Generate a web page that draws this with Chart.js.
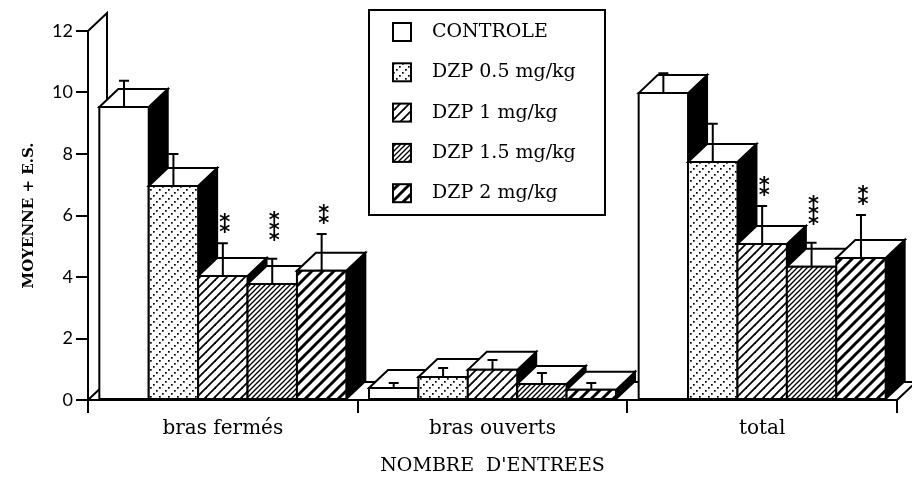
<!DOCTYPE html>
<html lang="fr">
<head>
<meta charset="utf-8">
<title>Nombre d'entrées</title>
<script src="https://cdn.jsdelivr.net/npm/chart.js@4.4.0/dist/chart.umd.min.js"></script>
<style>
  html, body { margin: 0; padding: 0; background: #fff; }
  #graphique { display: block; }
</style>
</head>
<body>
<canvas id="graphique" width="912" height="477"></canvas>
<script>
var categories = ["bras fermés", "bras ouverts", "total"];
var groupes = ["CONTROLE", "DZP 0.5 mg/kg", "DZP 1 mg/kg", "DZP 1.5 mg/kg", "DZP 2 mg/kg"];

// moyennes
var controle = [9.53, 0.39, 9.98];
var dzp05 = [6.96, 0.75, 7.74];
var dzp1 = [4.03, 0.98, 5.07];
var dzp15 = [3.77, 0.52, 4.33];
var dzp2 = [4.2, 0.33, 4.62];

// erreurs standard
var esControle = [0.85, 0.16, 0.65];
var esDzp05 = [1.04, 0.29, 1.24];
var esDzp1 = [1.07, 0.32, 1.24];
var esDzp15 = [0.82, 0.36, 0.78];
var esDzp2 = [1.2, 0.22, 1.4];

// significativite vs controle
var etoilesControle = ["", "", ""];
var etoilesDzp05 = ["", "", ""];
var etoilesDzp1 = ["**", "", "**"];
var etoilesDzp15 = ["***", "", "***"];
var etoilesDzp2 = ["**", "", "**"];

var graduationsY = [0, 2, 4, 6, 8, 10, 12];

var series = [controle, dzp05, dzp1, dzp15, dzp2];
var erreurs = [esControle, esDzp05, esDzp1, esDzp15, esDzp2];
var etoiles = [etoilesControle, etoilesDzp05, etoilesDzp1, etoilesDzp15, etoilesDzp2];

// decalage de la profondeur (vers le haut a droite)
var DX = 19, DY = -18;

function nouvelleTuile(taille) {
  var c = document.createElement("canvas");
  c.width = taille; c.height = taille;
  var g = c.getContext("2d");
  g.fillStyle = "#fff";
  g.fillRect(0, 0, taille, taille);
  return { c: c, g: g };
}

function motifRayures(pas, epaisseur) {
  var t = nouvelleTuile(pas);
  t.g.strokeStyle = "#000";
  t.g.lineWidth = epaisseur;
  [-pas, 0, pas].forEach(function (d) {
    t.g.beginPath();
    t.g.moveTo(d - 1, pas + 1);
    t.g.lineTo(d + pas + 1, -1);
    t.g.stroke();
  });
  return t.g.createPattern(t.c, "repeat");
}

function motifPoints(pas) {
  var t = nouvelleTuile(pas);
  t.g.fillStyle = "#000";
  var s = pas / 3;
  for (var k = 0; k < 3; k++) {
    t.g.fillRect(k * s, pas - (k + 1) * s, 1.7, 1.7);
  }
  return t.g.createPattern(t.c, "repeat");
}

var motifs = ["#fff", motifPoints(9), motifRayures(9, 1.8), motifRayures(5, 1.3), motifRayures(11, 3)];

function tracerPoly(ctx, pts, remplissage) {
  ctx.beginPath();
  ctx.moveTo(pts[0][0], pts[0][1]);
  for (var k = 1; k < pts.length; k++) ctx.lineTo(pts[k][0], pts[k][1]);
  ctx.closePath();
  ctx.fillStyle = remplissage;
  ctx.fill();
  ctx.stroke();
}

var barres3d = {
  id: "barres3d",
  beforeDatasetsDraw: function (chart) {
    var ctx = chart.ctx;
    var zone = chart.chartArea;
    var echY = chart.scales.y;
    ctx.save();
    ctx.strokeStyle = "#000";
    ctx.lineWidth = 2;

    // paroi gauche + sol
    ctx.beginPath();
    ctx.moveTo(zone.left, zone.top);
    ctx.lineTo(zone.left + DX, zone.top + DY);
    ctx.lineTo(zone.left + DX, zone.bottom + DY);
    ctx.moveTo(zone.left, zone.bottom);
    ctx.lineTo(zone.left + DX, zone.bottom + DY);
    ctx.lineTo(zone.right + DX, zone.bottom + DY);
    ctx.lineTo(zone.right, zone.bottom);
    ctx.stroke();

    // de gauche a droite : chaque barre cache le flanc de la precedente
    for (var c = 0; c < chart.data.labels.length; c++) {
      for (var i = 0; i < chart.data.datasets.length; i++) {
        var ds = chart.data.datasets[i];
        var barre = chart.getDatasetMeta(i).data[c];
        var g = barre.x - barre.width / 2, d = barre.x + barre.width / 2;
        var h = barre.y, b = barre.base;

        tracerPoly(ctx, [[d, h], [d + DX, h + DY], [d + DX, b + DY], [d, b]], "#000");
        tracerPoly(ctx, [[g, h], [g + DX, h + DY], [d + DX, h + DY], [d, h]], "#fff");
        tracerPoly(ctx, [[g, h], [d, h], [d, b], [g, b]], ds.backgroundColor);

        // barre d'erreur
        var yErr = echY.getPixelForValue(ds.data[c] + ds.erreurs[c]);
        ctx.beginPath();
        ctx.moveTo(barre.x, h);
        ctx.lineTo(barre.x, yErr);
        ctx.moveTo(barre.x - 5, yErr);
        ctx.lineTo(barre.x + 5, yErr);
        ctx.stroke();

        // etoiles empilees
        var n = ds.etoiles[c].length;
        if (n) {
          ctx.fillStyle = "#000";
          ctx.font = "bold 21px 'DejaVu Sans'";
          ctx.textAlign = "center";
          ctx.textBaseline = "alphabetic";
          var yBas = yErr - 17 - (n - 2) * 8;
          for (var k = 0; k < n; k++) {
            ctx.fillText("*", barre.x + 2, yBas - k * 10 + 13);
          }
        }
      }
    }
    ctx.restore();
    return false;
  }
};

var legendeEncadree = {
  id: "legendeEncadree",
  afterDraw: function (chart) {
    var ctx = chart.ctx;
    ctx.save();
    ctx.lineWidth = 2;
    ctx.strokeStyle = "#000";
    ctx.strokeRect(369, 10, 236, 205);
    chart.data.datasets.forEach(function (ds, i) {
      var y = 32 + i * 40.3;
      ctx.fillStyle = ds.backgroundColor;
      ctx.fillRect(393, y - 9, 18, 18);
      ctx.strokeRect(393, y - 9, 18, 18);
      ctx.fillStyle = "#000";
      ctx.font = "19px 'DejaVu Serif'";
      ctx.textAlign = "left";
      ctx.textBaseline = "middle";
      ctx.fillText(ds.label, 432, y);
    });
    ctx.restore();
  }
};

var jeux = groupes.map(function (nom, i) {
  return {
    label: nom,
    data: series[i],
    erreurs: erreurs[i],
    etoiles: etoiles[i],
    backgroundColor: motifs[i],
    borderColor: "#000",
    borderWidth: 2,
    barPercentage: 1,
    categoryPercentage: 0.916
  };
});

var ctx = document.getElementById("graphique").getContext("2d");
var graphique = new Chart(ctx, {
  type: "bar",
  data: { labels: categories, datasets: jeux },
  options: {
    responsive: false,
    animation: false,
    layout: { padding: { top: 31, right: 15, left: 0, bottom: 0 } },
    plugins: { legend: { display: false }, tooltip: { enabled: false } },
    scales: {
      x: {
        afterFit: function (ax) { ax.height = 77; },
        grid: { offset: true, drawOnChartArea: false, tickLength: 13, color: "#000", lineWidth: 2 },
        border: { color: "#000", width: 2 },
        ticks: { color: "#000", padding: 4, font: { family: "DejaVu Serif", size: 20 } },
        title: {
          display: true, text: "NOMBRE  D'ENTREES", color: "#000",
          font: { family: "DejaVu Serif", size: 19 }, padding: { top: 0, bottom: 0 }
        }
      },
      y: {
        min: 0, max: 12,
        afterBuildTicks: function (ax) {
          ax.ticks = graduationsY.map(function (v) { return { value: v }; });
        },
        afterFit: function (ax) { ax.width = 88; },
        grid: { drawOnChartArea: false, tickLength: 12, color: "#000", lineWidth: 2 },
        border: { color: "#000", width: 2 },
        ticks: { color: "#000", padding: 3, font: { family: "Lato", size: 18 } },
        title: {
          display: true, text: "MOYENNE + E.S.", color: "#000",
          font: { family: "DejaVu Serif", size: 15, weight: "bold" }, padding: { top: 20, bottom: 0 }
        }
      }
    }
  },
  plugins: [barres3d, legendeEncadree]
});
</script>
</body>
</html>
